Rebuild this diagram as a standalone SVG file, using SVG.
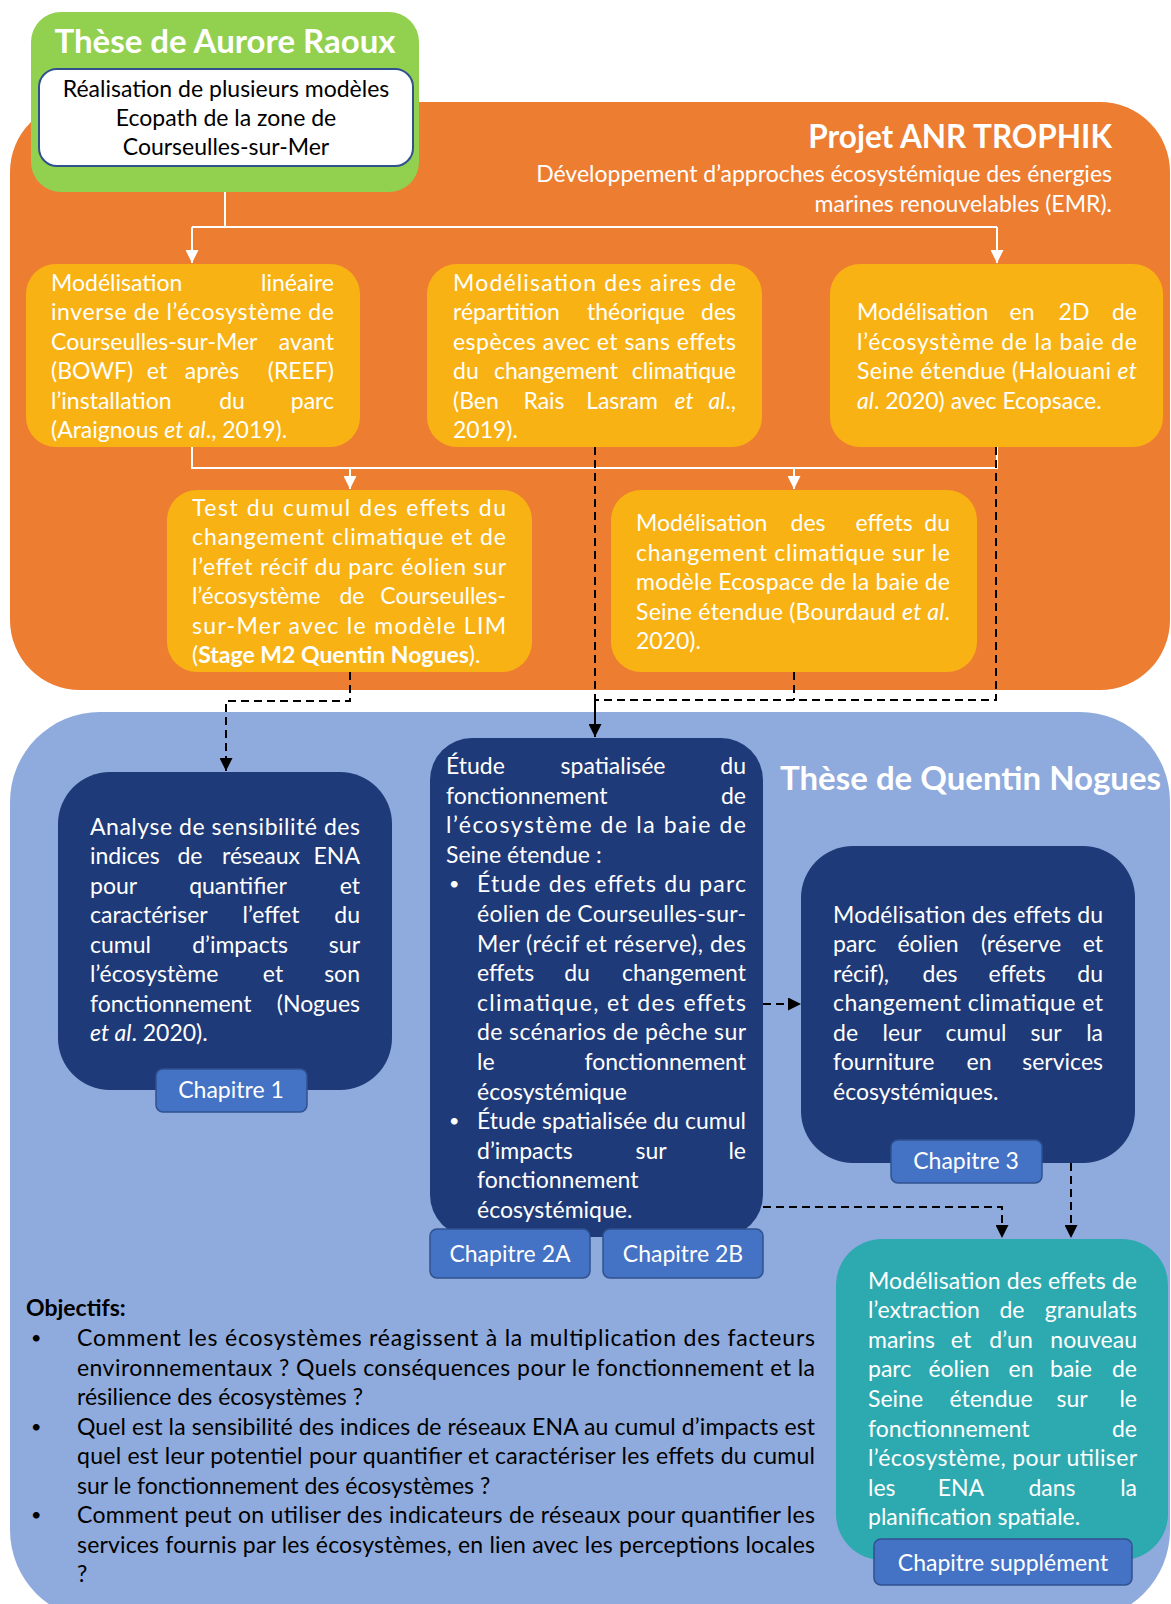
<svg xmlns="http://www.w3.org/2000/svg" width="1171" height="1604" viewBox="0 0 1171 1604">
<defs>
<style>
.t{font-family:Lato,"Liberation Sans",sans-serif;font-size:23px;fill:#fff}
.h1{font-size:33px;font-weight:bold}
.h2{font-size:31.5px;font-weight:bold}
.k{fill:#000}
.b{font-weight:bold}
.i{font-style:italic}
.e{text-anchor:end}
.m{text-anchor:middle}
.bu{font-size:18px}
.yel{fill:#F9B214}
.navy{fill:#1F3A78}
.chap{fill:#4472C4;stroke:#2F528F;stroke-width:1.5}
.wl{fill:none;stroke:#fff;stroke-width:2}
.dl{fill:none;stroke:#000;stroke-width:2;stroke-dasharray:8 5}
.sl{fill:none;stroke:#000;stroke-width:2}
</style>
<marker id="aw" viewBox="0 0 10 10" refX="10" refY="5" markerWidth="13" markerHeight="13" markerUnits="userSpaceOnUse" orient="auto"><path d="M0,0 L10,5 L0,10 z" fill="#fff"/></marker>
<marker id="ab" viewBox="0 0 10 10" refX="10" refY="5" markerWidth="13" markerHeight="13" markerUnits="userSpaceOnUse" orient="auto"><path d="M0,0 L10,5 L0,10 z" fill="#000"/></marker>
</defs>
<rect width="1171" height="1604" fill="#fff"/>

<g id="projet-trophik">
<rect x="10" y="102" width="1160" height="588" rx="70" fill="#ED7D31"/>
<text class="t h2 e" x="1112" y="148">Projet ANR TROPHIK</text>
<text class="t e" x="1112" y="182">Développement d’approches écosystémique des énergies</text>
<text class="t e" x="1112" y="212">marines renouvelables (EMR).</text>
</g>

<g id="these-nogues">
<rect x="10" y="712" width="1160" height="908" rx="90" fill="#8FAADC"/>
<text class="t h1" x="780" y="790">Thèse de Quentin Nogues</text>
</g>

<g id="these-raoux">
<rect x="31" y="12" width="388" height="180" rx="30" fill="#92D050"/>
<text class="t h1 m" x="225" y="53">Thèse de Aurore Raoux</text>
<rect x="39" y="69" width="374" height="97" rx="18" fill="#fff" stroke="#2F528F" stroke-width="2"/>
<text class="t k m" x="226" y="97">Réalisation de plusieurs modèles</text>
<text class="t k m" x="226" y="126">Ecopath de la zone de</text>
<text class="t k m" x="226" y="155">Courseulles-sur-Mer</text>
</g>

<g id="connectors">
<path class="wl" d="M225,192 V227 M192,227 H997"/>
<path class="wl" d="M192,227 V263" marker-end="url(#aw)"/>
<path class="wl" d="M997,227 V263" marker-end="url(#aw)"/>
<path class="wl" d="M192,447 V468 H997 V447"/>
<path class="wl" d="M350,468 V489" marker-end="url(#aw)"/>
<path class="wl" d="M794,468 V489" marker-end="url(#aw)"/>
<path class="dl" d="M595,447 V700"/>
<path class="dl" d="M996,447 V700 H595"/>
<path class="dl" d="M794,672 V700"/>
<path class="sl" d="M595,700 V737" marker-end="url(#ab)"/>
<path class="dl" d="M350,672 V701 H226 V771" marker-end="url(#ab)"/>
<path class="dl" d="M763,1004 H801" marker-end="url(#ab)"/>
<path class="dl" d="M763,1207 H1002 V1238" marker-end="url(#ab)"/>
<path class="dl" d="M1071,1163 V1238" marker-end="url(#ab)"/>
</g>

<g id="lim-inverse">
<rect class="yel" x="26" y="264" width="334" height="183" rx="30"/>
<text class="t" x="51" y="290.5">Modélisation</text><text class="t e" x="334" y="290.5">linéaire</text>
<text class="t" x="51" y="320" textLength="283" lengthAdjust="spacing">inverse de l’écosystème de</text>
<text class="t" x="51" y="349.5">Courseulles-sur-Mer</text><text class="t e" x="334" y="349.5">avant</text>
<text class="t" x="51" y="379">(BOWF)</text><text class="t m" x="157" y="379">et</text><text class="t m" x="212" y="379">après</text><text class="t e" x="334" y="379">(REEF)</text>
<text class="t" x="51" y="408.5">l’installation</text><text class="t m" x="232" y="408.5">du</text><text class="t e" x="334" y="408.5">parc</text>
<text class="t" x="51" y="438">(Araignous <tspan class="i">et al</tspan>., 2019).</text>
</g>

<g id="aires-repartition">
<rect class="yel" x="427" y="264" width="335" height="183" rx="30"/>
<text class="t" x="453" y="290.5" textLength="283" lengthAdjust="spacing">Modélisation des aires de</text>
<text class="t" x="453" y="320">répartition</text><text class="t m" x="636" y="320">théorique</text><text class="t e" x="736" y="320">des</text>
<text class="t" x="453" y="349.5" textLength="283" lengthAdjust="spacing">espèces avec et sans effets</text>
<text class="t" x="453" y="379">du</text><text class="t m" x="556" y="379">changement</text><text class="t e" x="736" y="379">climatique</text>
<text class="t" x="453" y="408.5">(Ben</text><text class="t m" x="544" y="408.5">Rais</text><text class="t m" x="622" y="408.5">Lasram</text><text class="t i m" x="684" y="408.5">et</text><text class="t e" x="736" y="408.5"><tspan class="i">al</tspan>.,</text>
<text class="t" x="453" y="438">2019).</text>
</g>

<g id="ecospace-2d">
<rect class="yel" x="830" y="264" width="333" height="183" rx="30"/>
<text class="t" x="857" y="320">Modélisation</text><text class="t m" x="1022" y="320">en</text><text class="t m" x="1074" y="320">2D</text><text class="t e" x="1137" y="320">de</text>
<text class="t" x="857" y="349.5" textLength="280" lengthAdjust="spacing">l’écosystème de la baie de</text>
<text class="t" x="857" y="379" textLength="280" lengthAdjust="spacing">Seine étendue (Halouani <tspan class="i">et</tspan></text>
<text class="t" x="857" y="408.5"><tspan class="i">al</tspan>. 2020) avec Ecopsace.</text>
</g>

<g id="test-cumul">
<rect class="yel" x="167" y="490" width="365" height="182" rx="30"/>
<text class="t" x="192" y="515.5" textLength="314" lengthAdjust="spacing">Test du cumul des effets du</text>
<text class="t" x="192" y="545" textLength="314" lengthAdjust="spacing">changement climatique et de</text>
<text class="t" x="192" y="574.5" textLength="314" lengthAdjust="spacing">l’effet récif du parc éolien sur</text>
<text class="t" x="192" y="604">l’écosystème</text><text class="t m" x="352" y="604">de</text><text class="t e" x="506" y="604">Courseulles-</text>
<text class="t" x="192" y="633.5" textLength="314" lengthAdjust="spacing">sur-Mer avec  le modèle LIM</text>
<text class="t" x="192" y="663">(<tspan class="b">Stage M2 Quentin Nogues</tspan>).</text>
</g>

<g id="ecospace-climat">
<rect class="yel" x="611" y="490" width="366" height="182" rx="30"/>
<text class="t" x="636" y="531">Modélisation</text><text class="t m" x="808" y="531">des</text><text class="t m" x="884" y="531">effets</text><text class="t e" x="950" y="531">du</text>
<text class="t" x="636" y="560.5" textLength="314" lengthAdjust="spacing">changement climatique sur le</text>
<text class="t" x="636" y="590" textLength="314" lengthAdjust="spacing">modèle Ecospace de la baie de</text>
<text class="t" x="636" y="619.5" textLength="314" lengthAdjust="spacing">Seine étendue (Bourdaud <tspan class="i">et al</tspan>.</text>
<text class="t" x="636" y="649">2020).</text>
</g>

<g id="chapitre-1">
<rect class="navy" x="58" y="772" width="334" height="318" rx="52"/>
<text class="t" x="90" y="834.5" textLength="270" lengthAdjust="spacing">Analyse de sensibilité des</text>
<text class="t" x="90" y="864">indices</text><text class="t m" x="190" y="864">de</text><text class="t m" x="261" y="864">réseaux</text><text class="t e" x="360" y="864">ENA</text>
<text class="t" x="90" y="893.5">pour</text><text class="t m" x="238" y="893.5">quantifier</text><text class="t e" x="360" y="893.5">et</text>
<text class="t" x="90" y="923">caractériser</text><text class="t m" x="271" y="923">l’effet</text><text class="t e" x="360" y="923">du</text>
<text class="t" x="90" y="952.5">cumul</text><text class="t m" x="240" y="952.5">d’impacts</text><text class="t e" x="360" y="952.5">sur</text>
<text class="t" x="90" y="982">l’écosystème</text><text class="t m" x="273" y="982">et</text><text class="t e" x="360" y="982">son</text>
<text class="t" x="90" y="1011.5">fonctionnement</text><text class="t e" x="360" y="1011.5">(Nogues</text>
<text class="t" x="90" y="1041"><tspan class="i">et al</tspan>. 2020).</text>
<rect class="chap" x="156" y="1069" width="151" height="43" rx="7"/>
<text class="t m" x="231" y="1098">Chapitre 1</text>
</g>

<g id="chapitre-2">
<rect class="navy" x="430" y="738" width="333" height="499" rx="42"/>
<text class="t" x="446" y="774">Étude</text><text class="t m" x="613" y="774">spatialisée</text><text class="t e" x="746" y="774">du</text>
<text class="t" x="446" y="803.6">fonctionnement</text><text class="t e" x="746" y="803.6">de</text>
<text class="t" x="446" y="833.2" textLength="300" lengthAdjust="spacing">l’écosystème de la baie de</text>
<text class="t" x="446" y="862.8">Seine étendue :</text>
<text class="t bu" x="449" y="890.4">•</text>
<text class="t" x="477" y="892.4" textLength="269" lengthAdjust="spacing">Étude des effets du parc</text>
<text class="t" x="477" y="922" textLength="269" lengthAdjust="spacing">éolien de Courseulles-sur-</text>
<text class="t" x="477" y="951.6" textLength="269" lengthAdjust="spacing">Mer (récif et réserve), des</text>
<text class="t" x="477" y="981.2">effets</text><text class="t m" x="577" y="981.2">du</text><text class="t e" x="746" y="981.2">changement</text>
<text class="t" x="477" y="1010.8" textLength="269" lengthAdjust="spacing">climatique, et des effets</text>
<text class="t" x="477" y="1040.4" textLength="269" lengthAdjust="spacing">de scénarios de pêche sur</text>
<text class="t" x="477" y="1070">le</text><text class="t e" x="746" y="1070">fonctionnement</text>
<text class="t" x="477" y="1099.6">écosystémique</text>
<text class="t bu" x="449" y="1127.2">•</text>
<text class="t" x="477" y="1129.2" textLength="269" lengthAdjust="spacing">Étude spatialisée du cumul</text>
<text class="t" x="477" y="1158.8">d’impacts</text><text class="t m" x="651" y="1158.8">sur</text><text class="t e" x="746" y="1158.8">le</text>
<text class="t" x="477" y="1188.4">fonctionnement</text>
<text class="t" x="477" y="1218">écosystémique.</text>
<rect class="chap" x="430" y="1229" width="160" height="49" rx="7"/>
<text class="t m" x="510" y="1262">Chapitre 2A</text>
<rect class="chap" x="603" y="1229" width="160" height="49" rx="7"/>
<text class="t m" x="683" y="1262">Chapitre 2B</text>
</g>

<g id="chapitre-3">
<rect class="navy" x="801" y="846" width="334" height="317" rx="52"/>
<text class="t" x="833" y="922.5" textLength="270" lengthAdjust="spacing">Modélisation des effets du</text>
<text class="t" x="833" y="952">parc</text><text class="t m" x="928" y="952">éolien</text><text class="t m" x="1021" y="952">(réserve</text><text class="t e" x="1103" y="952">et</text>
<text class="t" x="833" y="981.5">récif),</text><text class="t m" x="940" y="981.5">des</text><text class="t m" x="1017" y="981.5">effets</text><text class="t e" x="1103" y="981.5">du</text>
<text class="t" x="833" y="1011" textLength="270" lengthAdjust="spacing">changement climatique et</text>
<text class="t" x="833" y="1040.5">de</text><text class="t m" x="902" y="1040.5">leur</text><text class="t m" x="976" y="1040.5">cumul</text><text class="t m" x="1046" y="1040.5">sur</text><text class="t e" x="1103" y="1040.5">la</text>
<text class="t" x="833" y="1070">fourniture</text><text class="t m" x="979" y="1070">en</text><text class="t e" x="1103" y="1070">services</text>
<text class="t" x="833" y="1099.5">écosystémiques.</text>
<rect class="chap" x="891" y="1140" width="151" height="43" rx="7"/>
<text class="t m" x="966" y="1169">Chapitre 3</text>
</g>

<g id="chapitre-supplement">
<rect x="836" y="1239" width="332" height="321" rx="46" fill="#2DA9B0"/>
<text class="t" x="868" y="1288.6" textLength="269" lengthAdjust="spacing">Modélisation des effets de</text>
<text class="t" x="868" y="1318.2">l’extraction</text><text class="t m" x="1012" y="1318.2">de</text><text class="t e" x="1137" y="1318.2">granulats</text>
<text class="t" x="868" y="1347.8">marins</text><text class="t m" x="961" y="1347.8">et</text><text class="t m" x="1011" y="1347.8">d’un</text><text class="t e" x="1137" y="1347.8">nouveau</text>
<text class="t" x="868" y="1377.4">parc</text><text class="t m" x="959" y="1377.4">éolien</text><text class="t m" x="1021" y="1377.4">en</text><text class="t m" x="1071" y="1377.4">baie</text><text class="t e" x="1137" y="1377.4">de</text>
<text class="t" x="868" y="1407">Seine</text><text class="t m" x="991" y="1407">étendue</text><text class="t m" x="1072" y="1407">sur</text><text class="t e" x="1137" y="1407">le</text>
<text class="t" x="868" y="1436.6">fonctionnement</text><text class="t e" x="1137" y="1436.6">de</text>
<text class="t" x="868" y="1466.2" textLength="269" lengthAdjust="spacing">l’écosystème, pour utiliser</text>
<text class="t" x="868" y="1495.8">les</text><text class="t m" x="961" y="1495.8">ENA</text><text class="t m" x="1052" y="1495.8">dans</text><text class="t e" x="1137" y="1495.8">la</text>
<text class="t" x="868" y="1525.4">planification spatiale.</text>
<rect class="chap" x="874" y="1539" width="258" height="46" rx="7"/>
<text class="t m" x="1003" y="1571">Chapitre supplément</text>
</g>

<g id="objectifs">
<text class="t k b" x="26" y="1316">Objectifs:</text>
<text class="t k bu" x="31" y="1344">•</text>
<text class="t k" x="77" y="1346" textLength="738" lengthAdjust="spacing">Comment les écosystèmes réagissent à la multiplication des facteurs</text>
<text class="t k" x="77" y="1375.5" textLength="738" lengthAdjust="spacing">environnementaux ? Quels conséquences pour le fonctionnement et la</text>
<text class="t k" x="77" y="1405">résilience des écosystèmes ?</text>
<text class="t k bu" x="31" y="1432.5">•</text>
<text class="t k" x="77" y="1434.5" textLength="738" lengthAdjust="spacing">Quel est la sensibilité des indices de réseaux ENA au cumul d’impacts est</text>
<text class="t k" x="77" y="1464" textLength="738" lengthAdjust="spacing">quel est leur potentiel pour quantifier et caractériser les effets du cumul</text>
<text class="t k" x="77" y="1493.5">sur le fonctionnement des écosystèmes ?</text>
<text class="t k bu" x="31" y="1521">•</text>
<text class="t k" x="77" y="1523" textLength="738" lengthAdjust="spacing">Comment peut on utiliser des indicateurs de réseaux pour quantifier les</text>
<text class="t k" x="77" y="1552.5" textLength="738" lengthAdjust="spacing">services fournis par les écosystèmes, en lien avec les perceptions locales</text>
<text class="t k" x="77" y="1582">?</text>
</g>
</svg>
